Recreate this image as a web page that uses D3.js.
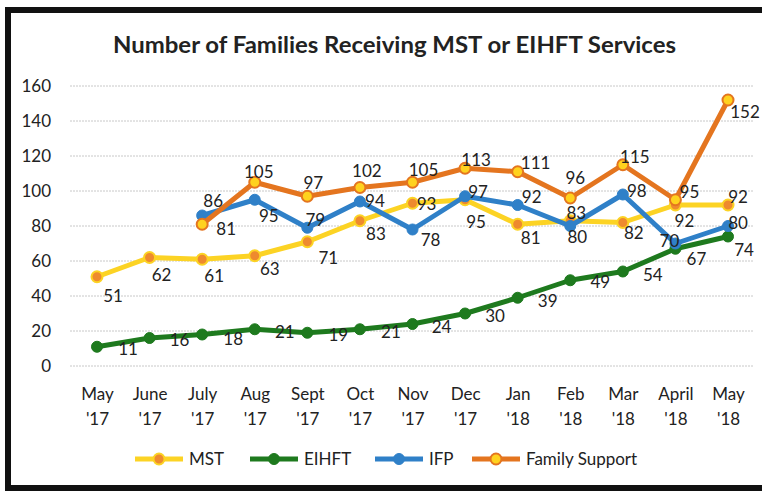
<!DOCTYPE html>
<html><head><meta charset="utf-8">
<script src="https://cdn.jsdelivr.net/npm/d3@7"></script>
<style>
html,body{margin:0;padding:0;background:#fff;}
svg{display:block;font-family:Lato,"Open Sans",sans-serif;}
</style></head>
<body><svg id="c" width="762" height="491"></svg>
<script>
// ---- data ----
const months = ["May '17","June '17","July '17","Aug '17","Sept '17","Oct '17","Nov '17","Dec '17","Jan '18","Feb '18","Mar '18","April '18","May '18"];
const mst    = [51,62,61,63,71,83,93,95,81,83,82,92,92];
const eihft  = [11,16,18,21,19,21,24,30,39,49,54,67,74];
const ifp    = [null,null,86,95,79,94,78,97,92,80,98,70,80];
const famSup = [null,null,81,105,97,102,105,113,111,96,115,95,152];
const yTicks = [0,20,40,60,80,100,120,140,160];
const seriesNames = ["MST","EIHFT","IFP","Family Support"];

// ---- layout ----
const svg = d3.select("#c");
const x = d3.scalePoint().domain(months).range([70.7,754.3]).padding(0.5);
const y = d3.scaleLinear().domain([0,160]).range([366,86]);

const styles = {
  "MST":{line:"#FCD324",fill:"#EE8A2E",stroke:"#FCD324",r:5.5,sw:2},
  "EIHFT":{line:"#1E7A1E",fill:"#1E7A1E",stroke:"#1E7A1E",r:5.5,sw:1},
  "IFP":{line:"#2F80C8",fill:"#2F80C8",stroke:"#2F80C8",r:5.5,sw:1},
  "Family Support":{line:"#E4751F",fill:"#FFD21E",stroke:"#E4751F",r:5.5,sw:2}
};
// label nudges (dx, dy from point centre)
const nudges = {
  "MST":[[16,19],[12,17],[12,17],[15,13],[21,16],[16,13],[14,1],[11,22],[13,14],[6,-8],[11,10],[9,16],[10,-8]],
  "EIHFT":[[31,2],[30,2],[31,4],[30,3],[31,2],[31,3],[29,3],[30,2],[30,3],[30,2],[30,3],[21,10],[16,13]],
  "IFP":[null,null,[11,-15],[14,16],[8,-8],[15,-1],[18,10],[13,-4],[14,-8],[7,11],[14,-4],[-6,-3],[10,-3]],
  "Family Support":[null,null,[24,5],[4,-10],[6,-13],[7,-17],[11,-12],[11,-8],[18,-9],[5,-20],[12,-8],[14,-8],[17,12]]
};

const series = [
  {name:"MST",values:mst},
  {name:"EIHFT",values:eihft},
  {name:"IFP",values:ifp},
  {name:"Family Support",values:famSup}
];

// border (right edge runs off the picture)
svg.append("rect").attr("x",8).attr("y",10).attr("width",770).attr("height",478)
  .attr("fill","#fff").attr("stroke","#111").attr("stroke-width",6);

// title
svg.append("text").attr("x",394.5).attr("y",53).attr("text-anchor","middle")
  .attr("font-size",23).attr("font-weight","bold").attr("fill","#222")
  .attr("textLength",563).attr("lengthAdjust","spacingAndGlyphs")
  .text("Number of Families Receiving MST or EIHFT Services");

// gridlines
svg.append("g").selectAll("line").data(yTicks).join("line")
  .attr("x1",70).attr("x2",754).attr("y1",d=>y(d)).attr("y2",d=>y(d))
  .attr("stroke","#c8c8c8").attr("stroke-width",1).attr("stroke-dasharray","2,1");

// y axis
const yAxis = svg.append("g").attr("transform","translate(60,0)")
  .call(d3.axisLeft(y).tickValues(yTicks).tickSize(0).tickPadding(9));
yAxis.select(".domain").remove();
yAxis.selectAll("text").attr("font-size",17).attr("fill","#222").attr("font-family","Lato");

// x axis
const xAxis = svg.append("g").attr("transform","translate(0,380)")
  .call(d3.axisBottom(x).tickSize(0).tickFormat(""));
xAxis.select(".domain").remove();
xAxis.selectAll(".tick").each(function(d){
  const parts = d.split(" ");
  const t = d3.select(this).append("text").attr("fill","#222").attr("font-size",17)
    .attr("text-anchor","middle").attr("font-family","Lato");
  t.append("tspan").attr("x",0).attr("y",20).text(parts[0]);
  t.append("tspan").attr("x",0).attr("y",45).text(parts[1]);
});

// lines + markers
const line = d3.line().defined(d=>d.v!=null).x(d=>x(d.m)).y(d=>y(d.v));
series.forEach(s=>{
  const st = styles[s.name];
  const pts = s.values.map((v,i)=>({m:months[i],v:v,i:i}));
  const g = svg.append("g");
  g.append("path").datum(pts).attr("d",line).attr("fill","none")
    .attr("stroke",st.line).attr("stroke-width",5).attr("stroke-linejoin","round");
  g.selectAll("circle").data(pts.filter(p=>p.v!=null)).join("circle")
    .attr("cx",p=>x(p.m)).attr("cy",p=>y(p.v)).attr("r",st.r)
    .attr("fill",st.fill).attr("stroke",st.stroke).attr("stroke-width",st.sw);
});

// data labels
series.forEach(s=>{
  const pts = s.values.map((v,i)=>({m:months[i],v:v,i:i})).filter(p=>p.v!=null);
  svg.append("g").selectAll("text").data(pts).join("text")
    .attr("x",p=>x(p.m)+nudges[s.name][p.i][0])
    .attr("y",p=>y(p.v)+nudges[s.name][p.i][1])
    .attr("dy","0.36em").attr("text-anchor","middle")
    .attr("font-size",17).attr("fill","#222").text(p=>p.v);
});

// legend
const legX = [135,250,375,472];
const leg = svg.append("g").attr("transform","translate(0,459)");
series.forEach((s,i)=>{
  const st = styles[s.name];
  const g = leg.append("g").attr("transform",`translate(${legX[i]},0)`);
  g.append("line").attr("x1",0).attr("x2",48).attr("y1",0).attr("y2",0)
    .attr("stroke",st.line).attr("stroke-width",5);
  g.append("circle").attr("cx",24).attr("cy",0).attr("r",st.r)
    .attr("fill",st.fill).attr("stroke",st.stroke).attr("stroke-width",st.sw);
  g.append("text").attr("x",54).attr("y",0).attr("dy","0.36em")
    .attr("font-size",17).attr("fill","#222").text(s.name);
});
</script></body></html>
